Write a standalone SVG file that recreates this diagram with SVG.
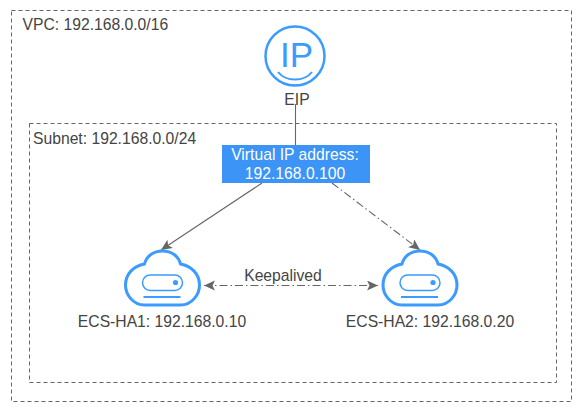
<svg xmlns="http://www.w3.org/2000/svg" width="587" height="415" viewBox="0 0 587 415">
<style>
text{font-family:"Liberation Sans",Arial,sans-serif;font-size:15.7px;fill:#444}
.box{fill:none;stroke:#666;stroke-width:1;stroke-dasharray:4 3}
.ic{fill:none;stroke:#3b9bff;stroke-width:3}
.ic2{fill:none;stroke:#3b9bff;stroke-width:2}
.c{fill:none;stroke:#666;stroke-width:1.1}
.dd{stroke-dasharray:8 3 1.5 3}
</style>
<defs>
<marker id="a" markerUnits="userSpaceOnUse" markerWidth="12" markerHeight="12" refX="11" refY="5" orient="auto-start-reverse"><path d="M0 0L11 5L0 10L2.500 5Z" fill="#666"/></marker>
<g id="cloud">
<path class="ic" d="M-18 49C-30 49-37 38-37 29C-37 18-29 10-18 8C-16 0-9-5 0-5C9-5 16 0 18 8C29 10 37 18 37 29C37 38 30 49 18 49Z"/>
<rect x="-20" y="19" width="40" height="15.500" rx="7.700" style="fill:none;stroke:#3b9bff;stroke-width:1.500"/>
<circle cx="13" cy="26.500" r="2.600" fill="#3b9bff"/>
<path class="ic2" d="M-19 41H18"/>
</g>
</defs>
<g id="vpc"><rect class="box" x="11.500" y="10.500" width="560" height="391"/><text x="22.500" y="30">VPC: 192.168.0.0/16</text></g>
<g id="subnet"><rect class="box" x="29.500" y="123.500" width="527" height="259"/><text x="33" y="144">Subnet: 192.168.0.0/24</text></g>
<g id="connectors">
<path class="c" d="M295.500 104V145"/>
<path class="c" d="M262 183L161 250" marker-end="url(#a)"/>
<path class="c dd" d="M332 183L420 250" marker-end="url(#a)"/>
<path class="c dd" d="M204 285.500H378" marker-start="url(#a)" marker-end="url(#a)"/>
</g>
<g id="eip">
<circle cx="295" cy="56" r="29.500" class="ic" style="stroke-width:2.500"/>
<text x="280" y="67" style="font-size:35px;fill:#3b9bff">IP</text>
<path class="ic" d="M278 72C286 82 304 82 312 72" style="stroke-width:2"/>
<text x="297" y="105" text-anchor="middle">EIP</text>
</g>
<g id="vip">
<rect x="222" y="145" width="148" height="38" fill="#3b94f6"/>
<text x="295" y="160" text-anchor="middle" style="fill:#fff">Virtual IP address:</text>
<text x="295" y="179" text-anchor="middle" style="fill:#fff">192.168.0.100</text>
</g>
<g id="ecs1"><use href="#cloud" x="162.500" y="256"/><text x="162" y="327" text-anchor="middle">ECS-HA1: 192.168.0.10</text></g>
<g id="ecs2"><use href="#cloud" x="420" y="256"/><text x="430" y="327" text-anchor="middle">ECS-HA2: 192.168.0.20</text></g>
<g id="keepalived"><text x="283" y="281" text-anchor="middle">Keepalived</text></g>
</svg>
